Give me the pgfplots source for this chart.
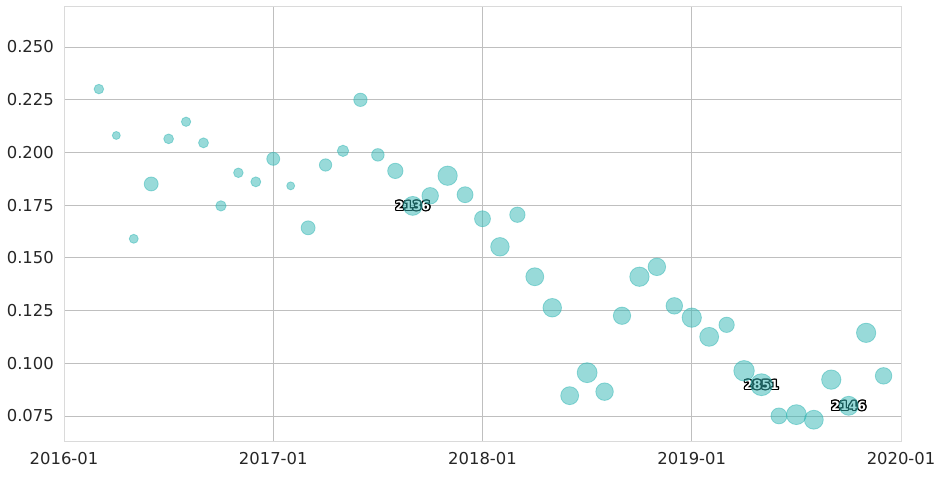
\documentclass[border=0pt]{standalone}
\usepackage{fontspec}
\setmainfont{DejaVu Sans}
\usepackage{pgfplots}
\usepackage{pgfplotstable}
\pgfplotsset{compat=1.18}
\definecolor{grid}{RGB}{218,218,218}
\definecolor{tick}{RGB}{38,38,38}
\definecolor{bub}{RGB}{50,182,180}
\pgfplotstableread{
m v n
2 0.2300 543
3 0.2080 377
4 0.1590 477
5 0.1850 1155
6 0.2064 566
7 0.2145 520
8 0.2045 589
9 0.1746 637
10 0.1903 543
11 0.1860 589
12 0.1969 996
13 0.1841 377
14 0.1642 1155
15 0.1940 906
16 0.2007 766
17 0.2249 1058
18 0.1988 935
19 0.1912 1397
20 0.1746 2136
21 0.1794 1623
22 0.1889 2217
23 0.1799 1508
24 0.1685 1508
25 0.1552 2038
26 0.1704 1397
27 0.1410 1909
28 0.1263 2038
29 0.0846 1909
30 0.0955 2357
31 0.0865 1825
32 0.1225 1784
33 0.1410 2217
34 0.1457 1825
35 0.1272 1623
36 0.1216 2217
37 0.1125 2127
38 0.1182 1397
39 0.0964 2500
40 0.0898 2851
41 0.0750 1508
42 0.0756 2357
43 0.0732 2127
44 0.0922 2217
45 0.0798 2146
46 0.1144 2217
47 0.0940 1623
}\bubbles
\tikzset{lbl/.style={font=\fontsize{12.5bp}{14bp}\selectfont\bfseries, inner sep=0pt}}
\newcommand{\outl}[2]{%
  \pgfplotsinvokeforeach{0,22.5,45,67.5,90,112.5,135,157.5,180,202.5,225,247.5,270,292.5,315,337.5}{%
    \node[lbl, text=black, shift={(##1:1.2bp)}] at (#1) {#2};}%
  \node[lbl, text=white] at (#1) {#2};}
\begin{document}
\begin{tikzpicture}
\begin{axis}[
  name=ax,
  width=837bp, height=435bp, scale only axis,
  xmin=0, xmax=48, ymin=0.0631, ymax=0.2694,
  xtick={0,12,24,36,48},
  xticklabels={2016-01,2017-01,2018-01,2019-01,2020-01},
  ytick={0.075,0.1,0.125,0.15,0.175,0.2,0.225,0.25},
  /pgf/number format/fixed,
  /pgf/number format/fixed zerofill,
  /pgf/number format/precision=3,
  /pgf/number format/assume math mode=true,
  tick label style={font=\fontsize{16.4bp}{19bp}\selectfont, text=tick, inner sep=0pt},
  xticklabel style={yshift=-11.5bp},
  yticklabel style={xshift=-10bp},
  major tick length=0pt,
  grid=major,
  major grid style={grid, line width=0.8bp},
  axis line style={grid, line width=0.9bp},
  clip=false,
]
\addplot[scatter, only marks, mark=*,
  scatter/use mapped color={draw=bub, fill=bub},
  mark options={line width=0.8bp, fill opacity=0.5, draw opacity=0.5},
  visualization depends on={0.206*sqrt(\thisrow{n}) \as \msz},
  scatter/@pre marker code/.append style={/tikz/mark size=\msz},
  point meta=\thisrow{n}]
  table[x=m, y=v] {\bubbles};
\outl{axis cs:20,0.1746}{2136}
\outl{axis cs:40,0.0898}{2851}
\outl{axis cs:45,0.0798}{2146}
\coordinate (sw) at (rel axis cs:0,0);
\coordinate (ne) at (rel axis cs:1,1);
\end{axis}
\pgfresetboundingbox
\path ([shift={(-64bp,-35bp)}]sw) rectangle ([shift={(41bp,6bp)}]ne);
\end{tikzpicture}
\end{document}
